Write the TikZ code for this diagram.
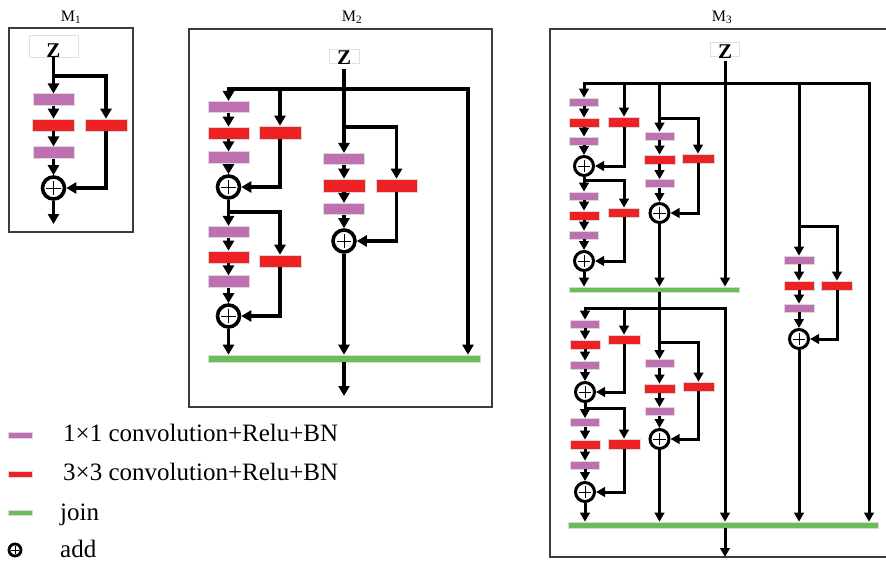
\documentclass[tikz,border=0pt]{standalone}
\usepackage{fontspec}
\setmainfont{Liberation Serif}
\usetikzlibrary{arrows.meta,calc}
\definecolor{cpur}{RGB}{190,112,176}
\definecolor{cred}{RGB}{237,32,36}
\definecolor{cgrn}{RGB}{106,190,90}
\definecolor{cfrm}{RGB}{60,60,60}
\begin{document}
\begin{tikzpicture}[x=1pt,y=-1pt,
  blk/.style={inner sep=0pt, draw=black!15, line width=0.6pt},
  pb/.style={blk, fill=cpur},
  rb/.style={blk, fill=cred},
  gb/.style={blk, fill=cgrn},
  s1/.style={minimum width=41pt, minimum height=11.5pt},
  s3p/.style={minimum width=29pt, minimum height=8pt},
  s3r/.style={minimum width=31pt, minimum height=9pt},
  addc/.style={circle, draw=black, fill=white, line width=3.6pt, inner sep=0pt, minimum size=#1,
    path picture={\draw[line width=1pt, black]
      ($(path picture bounding box.center)!0.68!(path picture bounding box.west)$) --
      ($(path picture bounding box.center)!0.68!(path picture bounding box.east)$)
      ($(path picture bounding box.center)!0.68!(path picture bounding box.north)$) --
      ($(path picture bounding box.center)!0.68!(path picture bounding box.south)$);}},
  add3/.style={addc=19pt, line width=3pt},
  arr/.style={line width=3.6pt, -{Triangle[length=10pt,width=11pt]}},
  arr3/.style={line width=3pt, -{Triangle[length=9pt,width=9.5pt]}},
  frm/.style={draw=cfrm, line width=1.3pt},
  zbox/.style={draw=black!12, line width=0.8pt, inner sep=0pt, font=\bfseries\fontsize{21}{21}\selectfont},
  ttl/.style={font=\fontsize{16}{16}\selectfont, inner sep=0pt, anchor=base},
  lgt/.style={font=\fontsize{25}{25}\selectfont, inner sep=0pt, anchor=base west}
]
\useasboundingbox (0,0) rectangle (886,562);

% ================= M1 =================
\node[ttl] (t1) at (71,21) {M\textsubscript{1}};
\draw[frm] (9,28) rectangle (133,232);
\node[zbox, minimum width=49pt, minimum height=22pt] (z1) at (53.5,46) {\raisebox{-11pt}[0pt][0pt]{Z}};
\node[pb, s1] (p11) at (53.5,99.5) {};
\node[rb, minimum width=42pt, minimum height=12pt] (r11) at (53.5,125) {};
\node[rb, minimum width=42pt, minimum height=12pt] (r12) at (106,125) {};
\node[pb, s1] (p12) at (53.5,152.5) {};
\node[addc=22pt] (a1) at (53.5,188) {};
\coordinate (j1) at (53.5,76);
\coordinate (o1) at (53.5,224);
\draw[arr] (z1.south) -- (p11.north);
\draw[arr] (j1) -| (r12.north);
\draw[arr] (p11.south) -- (r11.north);
\draw[arr] (r11.south) -- (p12.north);
\draw[arr] (p12.south) -- (a1.north);
\draw[arr] (r12.south) |- (a1.east);
\draw[arr] (a1.south) -- (o1);

% ================= M2 =================
\node[ttl] (t2) at (352,21) {M\textsubscript{2}};
\draw[frm] (189,29) rectangle (492,407);
\node[zbox, minimum width=30pt, minimum height=14pt] (z2) at (344,56) {\raisebox{-9pt}[0pt][0pt]{Z}};
\node[pb, s1] (p21) at (228.5,107) {};
\node[rb, minimum width=41pt, minimum height=12pt] (r21) at (228.5,133) {};
\node[rb, minimum width=42pt, minimum height=13pt] (r22) at (280,132.5) {};
\node[pb, s1] (p22) at (228.5,157.5) {};
\node[addc=22pt] (a21) at (228.5,187) {};
\node[pb, s1] (p23) at (228.5,232) {};
\node[rb, minimum width=41pt, minimum height=12pt] (r23) at (228.5,257) {};
\node[rb, minimum width=42pt, minimum height=12pt] (r24) at (280,261) {};
\node[pb, s1] (p24) at (228.5,281.5) {};
\node[addc=22pt] (a22) at (228.5,316) {};
\node[gb, minimum width=272pt, minimum height=7pt] (g2) at (344,358.5) {};
\node[pb, s1] (p25) at (344,159) {};
\node[rb, minimum width=42pt, minimum height=13pt] (r25) at (344,185.5) {};
\node[rb, minimum width=41pt, minimum height=13pt] (r26) at (396.5,185.5) {};
\node[pb, s1] (p26) at (344,209) {};
\node[addc=22pt] (a23) at (344,241) {};
\coordinate (j2) at (344,89);
\coordinate (c2r) at (468,89);
\coordinate (b21) at (280,89);
\coordinate (j22) at (228.5,212);
\coordinate (j23) at (344,127);
\coordinate (o2) at (344,396);
\draw[arr, shorten <=6pt] (z2.south) -- (p25.north);
\draw[arr] (j2) -| (p21.north);
\draw[arr] (j2) -| (g2.north -| c2r);
\draw[arr] (b21) -- (r22.north);
\draw[arr] (p21.south) -- (r21.north);
\draw[arr] (r21.south) -- (p22.north);
\draw[arr] (p22.south) -- (a21.north);
\draw[arr] (r22.south) |- (a21.east);
\draw[arr] (a21.south) -- (p23.north);
\draw[arr] (j22) -| (r24.north);
\draw[arr] (p23.south) -- (r23.north);
\draw[arr] (r23.south) -- (p24.north);
\draw[arr] (p24.south) -- (a22.north);
\draw[arr] (r24.south) |- (a22.east);
\draw[arr] (a22.south) -- (g2.north -| a22);
\draw[arr] (j23) -| (r26.north);
\draw[arr] (p25.south) -- (r25.north);
\draw[arr] (r25.south) -- (p26.north);
\draw[arr] (p26.south) -- (a23.north);
\draw[arr] (r26.south) |- (a23.east);
\draw[arr] (a23.south) -- (g2.north -| a23);
\draw[arr] (g2.south) -- (o2);

% ================= M3 =================
\node[ttl] (t3) at (722,21) {M\textsubscript{3}};
\draw[frm] (550,29) rectangle (895,557);
\node[zbox, minimum width=29pt, minimum height=14pt] (z3) at (725,49) {\raisebox{-9pt}[0pt][0pt]{Z}};
% top half
\node[pb, s3p] (pA1) at (584,102) {};
\node[rb, minimum width=30pt, minimum height=9pt] (rA1) at (584,122.5) {};
\node[pb, s3p] (pA2) at (584,141) {};
\node[add3] (aA1) at (584,166) {};
\node[rb, minimum width=31pt, minimum height=10pt] (rB1) at (624,122) {};
\node[pb, s3p] (pA3) at (584,196) {};
\node[rb, minimum width=30pt, minimum height=9pt] (rA3) at (584,215.5) {};
\node[rb, s3r] (rB2) at (624,212.5) {};
\node[pb, s3p] (pA4) at (584,235) {};
\node[add3] (aA2) at (584,261) {};
\node[gb, minimum width=170pt, minimum height=5pt] (g3a) at (654,289.5) {};
\node[pb, s3p] (pC1) at (659.5,136) {};
\node[rb, s3r] (rC1) at (659.5,159.5) {};
\node[rb, minimum width=32pt, minimum height=9pt] (rD) at (698,158.5) {};
\node[pb, s3p] (pC2) at (659.5,183.5) {};
\node[add3] (aC) at (659.5,213) {};
% bottom half
\node[pb, s3p] (pA5) at (585,324) {};
\node[rb, minimum width=30pt, minimum height=9pt] (rA5) at (585,344.5) {};
\node[rb, minimum width=32pt, minimum height=9pt] (rB5) at (624,339.5) {};
\node[pb, s3p] (pA6) at (585,365) {};
\node[add3] (aA5) at (585,392) {};
\node[pb, s3p] (pA7) at (585,422.5) {};
\node[rb, minimum width=30pt, minimum height=9pt] (rA7) at (585,444.5) {};
\node[rb, minimum width=32pt, minimum height=10pt] (rB7) at (624,444) {};
\node[pb, s3p] (pA8) at (585,465) {};
\node[add3] (aA7) at (585,492) {};
\node[gb, minimum width=310pt, minimum height=6pt] (g3b) at (723,525) {};
\node[pb, s3p] (pC5) at (659.5,363.5) {};
\node[rb, s3r] (rC5) at (659.5,388.5) {};
\node[rb, s3r] (rD5) at (698.5,386.5) {};
\node[pb, s3p] (pC6) at (659.5,411.5) {};
\node[add3] (aC5) at (659.5,439) {};
% right part
\node[pb, minimum width=30pt, minimum height=8pt] (pE1) at (799,260) {};
\node[rb, minimum width=30pt, minimum height=9pt] (rE1) at (799,285.5) {};
\node[rb, s3r] (rF1) at (837,285.5) {};
\node[pb, minimum width=30pt, minimum height=8pt] (pE2) at (799,308) {};
\node[add3] (aE1) at (799,339) {};
% junctions
\coordinate (j3) at (725,83);
\coordinate (c3g) at (869,83);
\coordinate (b3) at (624,83);
\coordinate (c3) at (659.5,83);
\coordinate (e3) at (799,83);
\coordinate (jA2) at (584,180);
\coordinate (jC) at (659.5,118);
\coordinate (jb) at (659.5,308);
\coordinate (c3m) at (725,308);
\coordinate (jA6) at (585,408);
\coordinate (jC5) at (659.5,342);
\coordinate (jE) at (799,226);
\coordinate (o3) at (725,557);
% top connectors
\draw[arr3, shorten <=5pt] (z3.south) -- (g3a.north -| z3);
\draw[arr3] (j3) -| (pA1.north);
\draw[arr3] (j3) -| (g3b.north -| c3g);
\draw[arr3] (b3) -- (rB1.north);
\draw[arr3] (c3) -- (pC1.north);
\draw[arr3] (e3) -- (pE1.north);
\draw[arr3] (pA1.south) -- (rA1.north);
\draw[arr3] (rA1.south) -- (pA2.north);
\draw[arr3] (pA2.south) -- (aA1.north);
\draw[arr3] (rB1.south) |- (aA1.east);
\draw[arr3] (aA1.south) -- (pA3.north);
\draw[arr3] (jA2) -| (rB2.north);
\draw[arr3] (pA3.south) -- (rA3.north);
\draw[arr3] (rA3.south) -- (pA4.north);
\draw[arr3] (pA4.south) -- (aA2.north);
\draw[arr3] (rB2.south) |- (aA2.east);
\draw[arr3] (aA2.south) -- (g3a.north -| aA2);
\draw[arr3] (jC) -| (rD.north);
\draw[arr3] (pC1.south) -- (rC1.north);
\draw[arr3] (rC1.south) -- (pC2.north);
\draw[arr3] (pC2.south) -- (aC.north);
\draw[arr3] (rD.south) |- (aC.east);
\draw[arr3] (aC.south) -- (g3a.north -| aC);
% bottom connectors
\draw[arr3] (g3a.south -| jb) -- (jb) -| (pA5.north);
\draw[arr3] (jb) -- (c3m) -- (g3b.north -| c3m);
\draw[arr3] (jb) -- (pC5.north);
\draw[arr3] (jA6 |- jb) -| (rB5.north);
\draw[arr3] (pA5.south) -- (rA5.north);
\draw[arr3] (rA5.south) -- (pA6.north);
\draw[arr3] (pA6.south) -- (aA5.north);
\draw[arr3] (rB5.south) |- (aA5.east);
\draw[arr3] (aA5.south) -- (pA7.north);
\draw[arr3] (jA6) -| (rB7.north);
\draw[arr3] (pA7.south) -- (rA7.north);
\draw[arr3] (rA7.south) -- (pA8.north);
\draw[arr3] (pA8.south) -- (aA7.north);
\draw[arr3] (rB7.south) |- (aA7.east);
\draw[arr3] (aA7.south) -- (g3b.north -| aA7);
\draw[arr3] (jC5) -| (rD5.north);
\draw[arr3] (pC5.south) -- (rC5.north);
\draw[arr3] (rC5.south) -- (pC6.north);
\draw[arr3] (pC6.south) -- (aC5.north);
\draw[arr3] (rD5.south) |- (aC5.east);
\draw[arr3] (aC5.south) -- (g3b.north -| aC5);
% right connectors
\draw[arr3] (jE) -| (rF1.north);
\draw[arr3] (pE1.south) -- (rE1.north);
\draw[arr3] (rE1.south) -- (pE2.north);
\draw[arr3] (pE2.south) -- (aE1.north);
\draw[arr3] (rF1.south) |- (aE1.east);
\draw[arr3] (aE1.south) -- (g3b.north -| aE1);
\draw[arr3] (g3b.south -| c3m) -- (o3);

% ================= Legend =================
\node[pb, minimum width=24pt, minimum height=6pt] (lp) at (20,435) {};
\node[lgt] (tx1) at (63,441) {1×1 convolution+Relu+BN};
\node[rb, minimum width=24pt, minimum height=6pt] (lr) at (20,474.5) {};
\node[lgt] (tx2) at (63,480) {3×3 convolution+Relu+BN};
\node[gb, minimum width=24pt, minimum height=5pt] (lg) at (20,513) {};
\node[lgt] (tx3) at (60,520) {join};
\node[addc=12pt, line width=2.8pt] (la) at (15,550) {};
\node[lgt] (tx4) at (60,557) {add};
\end{tikzpicture}
\end{document}
